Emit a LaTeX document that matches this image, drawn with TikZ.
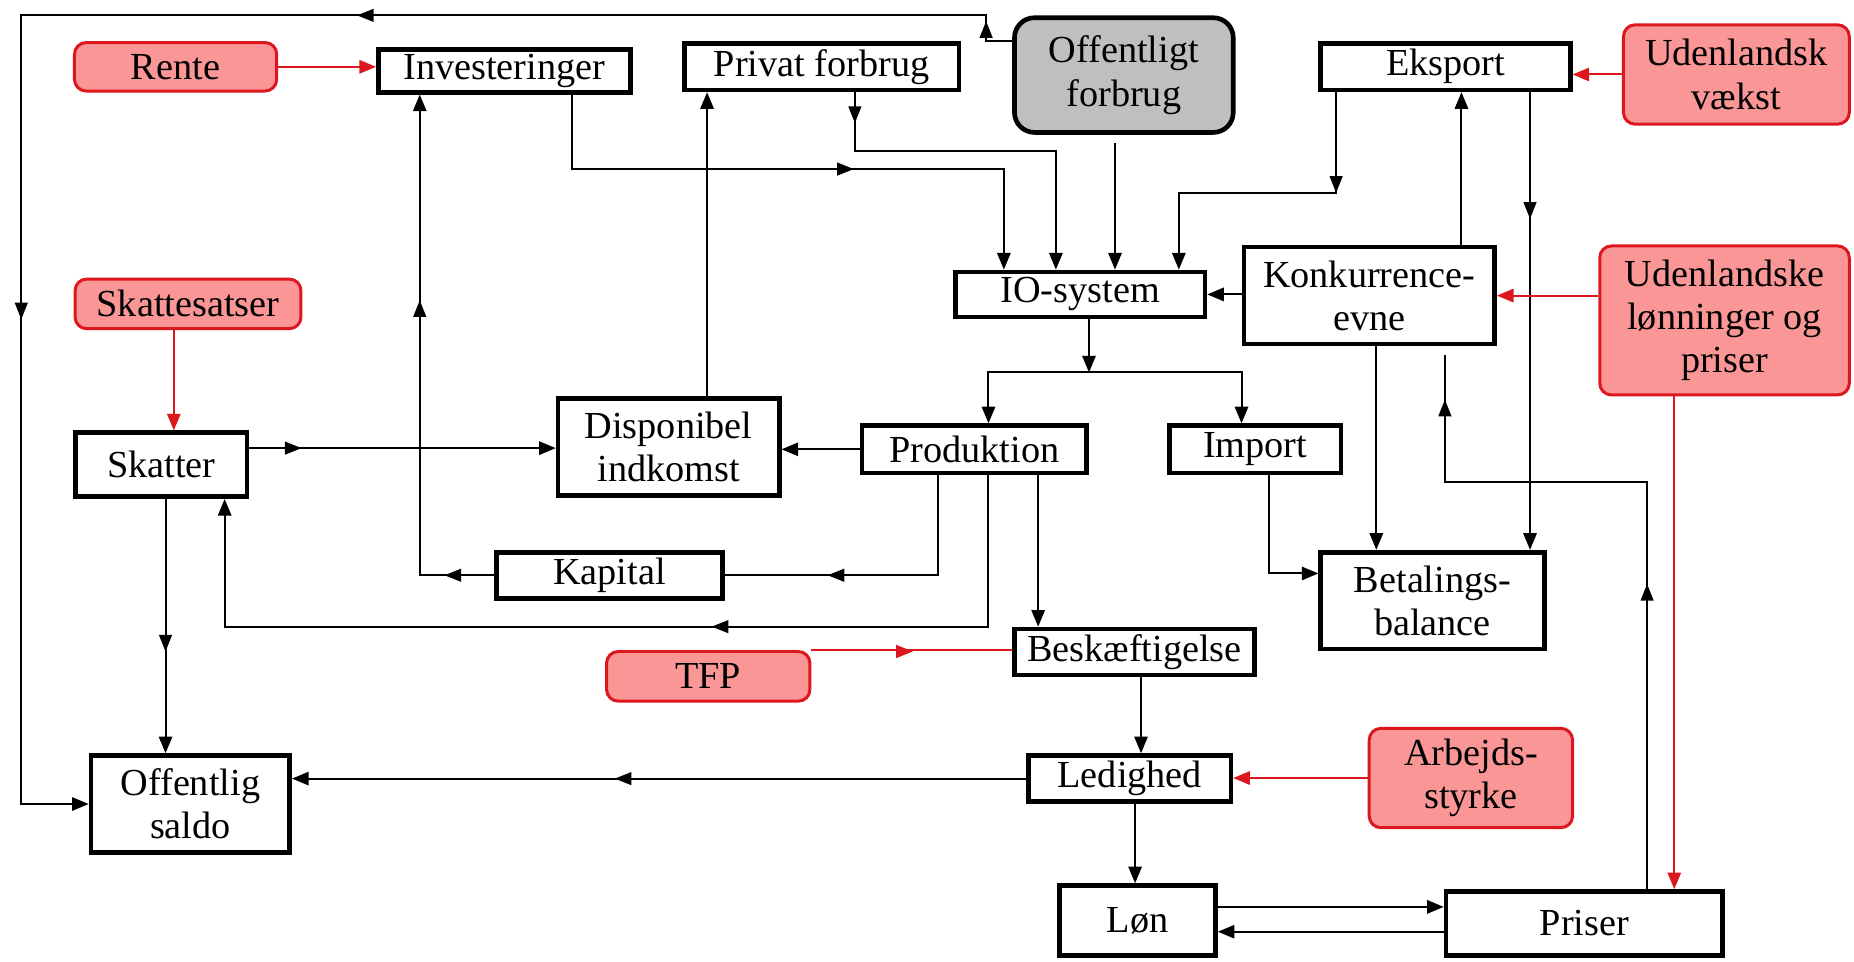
\documentclass[tikz,border=0pt]{standalone}
\usepackage{fontspec}
\setmainfont{Liberation Serif}
\usetikzlibrary{arrows.meta}
\newdimen\px \px=0.025cm
\definecolor{boxred}{RGB}{250,150,150}
\definecolor{linered}{RGB}{220,24,30}
\definecolor{boxgray}{RGB}{191,191,191}

\begin{document}
\begin{tikzpicture}[x=0.025cm, y=-0.025cm,
  every node/.style={font=\fontsize{23}{26}\selectfont, align=center, inner sep=0pt},
  blk/.style={draw, line width=2.8pt, fill=white},
  ext/.style={draw=linered, line width=1.8pt, fill=boxred, rounded corners=7pt},
  pub/.style={draw, line width=2.8pt, fill=boxgray, rounded corners=12pt},
  sz/.style 2 args={minimum width=#1\px, minimum height=#2\px},
  link/.style={line width=1.2pt, -{Triangle[length=10pt,width=8pt]}},
  plain/.style={line width=1.2pt},
  rlink/.style={line width=1.2pt, linered, -{Triangle[length=10pt,width=8pt]}},
  rplain/.style={line width=1.2pt, linered},
  midtip/.pic={\fill (0,0) -- (-10pt,4pt) -- (-10pt,-4pt) -- cycle;}
]
\useasboundingbox (0,0) rectangle (1568,813);
\fill[white] (0,0) rectangle (1568,813);

% model blocks
\node[blk, sz={213}{36}] (inv) at (426.5,60) {Investeringer};
\node[blk, sz={232}{39}] (priv) at (695,56.5) {Privat forbrug};
\node[pub, sz={185}{97}] (off) at (950.5,63.5) {Offentligt\\forbrug};
\node[blk, sz={211}{39}] (eks) at (1222.5,56.5) {Eksport};
\node[blk, sz={211}{38}] (io) at (913.5,249) {IO-system};
\node[blk, sz={212}{82}] (konk) at (1158,250) {Konkurrence-\\evne};
\node[blk, sz={145}{54}] (skatter) at (136.5,393) {Skatter};
\node[blk, sz={187}{82}] (disp) at (565.5,378) {Disponibel\\indkomst};
\node[blk, sz={190}{40}] (prod) at (824,380) {Produktion};
\node[blk, sz={145}{40}] (imp) at (1061.5,380) {Import};
\node[blk, sz={191}{39}] (kap) at (515.5,486.5) {Kapital};
\node[blk, sz={189}{82}] (bet) at (1211.5,508) {Betalings-\\balance};
\node[blk, sz={203}{39}] (besk) at (959.5,551.5) {Beskæftigelse};
\node[blk, sz={168}{82}] (osaldo) at (161,680) {Offentlig\\saldo};
\node[blk, sz={171}{39}] (led) at (955.5,658.5) {Ledighed};
\node[blk, sz={132}{59}] (lon) at (962,778.5) {Løn};
\node[blk, sz={234}{54}] (pris) at (1340,781) {Priser};

% exogenous inputs
\node[ext, sz={171}{41}] (rente) at (148.5,56.5) {Rente};
\node[ext, sz={191}{42}] (skats) at (159,257) {Skattesatser};
\node[ext, sz={191}{84}] (uv) at (1468.5,63) {Udenlandsk\\vækst};
\node[ext, sz={211}{126}] (ul) at (1458.5,271) {Udenlandske\\lønninger og\\priser};
\node[ext, sz={172}{42}] (tfp) at (599,572) {TFP};
\node[ext, sz={172}{84}] (arb) at (1244,658) {Arbejds-\\styrke};

% public consumption feeds back to the public balance
\draw[link] (off.west |- 0,35) -- (834,35) -- (834,13) -- (18,13) -- (18,680) -- (osaldo.west);
\pic[rotate=90] at (834,18) {midtip};
\pic[rotate=180] at (302,13) {midtip};
\pic[rotate=-90] at (18,270) {midtip};

% demand components into the IO system
\draw[rlink] (rente.east) -- (rente.east -| inv.west);
\draw[link] (484,0 |- inv.south) -- (484,143) -- (849,143) -- (849,0 |- io.north);
\pic at (722,143) {midtip};
\draw[link] (723,0 |- priv.south) -- (723,128) -- (893,128) -- (893,0 |- io.north);
\pic[rotate=-90] at (723,104) {midtip};
\coordinate (offout) at (943,121);
\draw[link] (offout) -- (offout |- io.north);
\draw[link] (1130,0 |- eks.south) -- (1130,163) -- (997,163) -- (997,0 |- io.north);
\pic[rotate=-90] at (1130,163) {midtip};
\draw[link] (konk.west |- io.east) -- (io.east);

% foreign trade
\draw[link] (1236,0 |- konk.north) -- (1236,0 |- eks.south);
\draw[link] (1294,0 |- eks.south) -- (1294,0 |- bet.north);
\pic[rotate=-90] at (1294,185) {midtip};
\draw[rlink] (uv.west) -- (uv.west -| eks.east);
\draw[rlink] (ul.west |- konk.east) -- (konk.east);
\draw[rlink] (1416,0 |- ul.south) -- (1416,0 |- pris.north);
\coordinate (konkin) at (1222,300);
\draw[plain] (1393,0 |- pris.north) -- (1393,408) -- (1222,408) -- (konkin);
\pic[rotate=90] at (1393,494) {midtip};
\pic[rotate=90] at (1222,338) {midtip};
\draw[link] (1164,0 |- konk.south) -- (1164,0 |- bet.north);
\draw[link] (1073,0 |- imp.south) -- (1073,485) -- (bet.west |- 0,485);

% IO system splits into production and import
\coordinate (split) at (921,315);
\draw[link] (split |- io.south) -- (split);
\draw[link] (split) -- (836,315) -- (836,0 |- prod.north);
\draw[link] (split) -- (1050,315) -- (1050,0 |- imp.north);

% income, taxes and capital
\draw[link] (prod.west) -- (prod.west -| disp.east);
\draw[link] (598,0 |- disp.north) -- (598,0 |- priv.south);
\draw[link] (skatter.east |- 0,379) -- (disp.west |- 0,379);
\pic at (255,379) {midtip};
\draw[link] (kap.west) -- (355,0 |- kap.west) -- (355,0 |- inv.south);
\pic[rotate=180] at (376,486.5) {midtip};
\pic[rotate=90] at (355,254) {midtip};
\draw[plain] (793,0 |- prod.south) -- (793,0 |- kap.east) -- (kap.east);
\pic[rotate=180] at (700,486.5) {midtip};
\draw[link] (836,0 |- prod.south) -- (836,530) -- (190,530) -- (190,0 |- skatter.south);
\pic[rotate=180] at (602,530) {midtip};
\draw[rlink] (147,0 |- skats.south) -- (147,0 |- skatter.north);
\draw[link] (140,0 |- skatter.south) -- (140,0 |- osaldo.north);
\pic[rotate=-90] at (140,551) {midtip};

% labour market, wages and prices
\draw[link] (878,0 |- prod.south) -- (878,0 |- besk.north);
\draw[rplain] (tfp.north east) -- (tfp.north east -| besk.west);
\pic[linered] at (772,551) {midtip};
\draw[link] (965,0 |- besk.south) -- (965,0 |- led.north);
\draw[link] (led.west) -- (led.west -| osaldo.east);
\pic[rotate=180] at (520,658.5) {midtip};
\draw[rlink] (arb.west) -- (arb.west -| led.east);
\draw[link] (960,0 |- led.south) -- (960,0 |- lon.north);
\draw[link] (lon.east |- 0,767) -- (pris.west |- 0,767);
\draw[link] (pris.west |- 0,788) -- (lon.east |- 0,788);
\end{tikzpicture}
\end{document}
